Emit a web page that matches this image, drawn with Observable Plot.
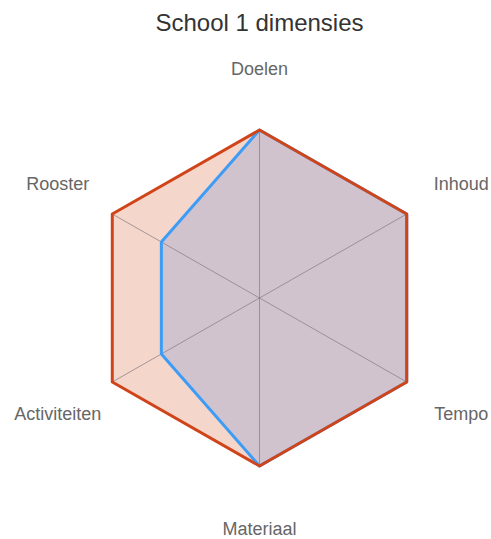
<!DOCTYPE html>
<html>
<head>
<meta charset="utf-8">
<script src="https://cdn.jsdelivr.net/npm/d3@7"></script>
<script src="https://cdn.jsdelivr.net/npm/@observablehq/plot@0.6"></script>
<style>
  html, body { margin: 0; padding: 0; background: #fff; }
  #chart svg { display: block; }
</style>
</head>
<body>
<div id="chart"></div>
<script>
const title = "School 1 dimensies";
const dimensions = ["Doelen", "Inhoud", "Tempo", "Materiaal", "Activiteiten", "Rooster"];
const seriesNames = ["Reeks 1", "Reeks 2"];
const seriesOrange = [3, 3, 3, 3, 3, 3];
const seriesBlue = [3, 3, 3, 3, 2, 2];
const maxValue = 3;

const W = 491, H = 539;
const cx = 259, cy = 297.5, Rx = 170, Ry = 168;

const ang = i => (i * 2 * Math.PI) / dimensions.length;
const px = (v, i) => (v / maxValue) * Math.sin(ang(i));
const py = (v, i) => (v / maxValue) * Math.cos(ang(i));

const rows = (name, vals) => vals.map((v, i) => ({series: name, dim: dimensions[i], x: px(v, i), y: py(v, i)}));
const orangeRows = rows(seriesNames[0], seriesOrange);
const blueRows = rows(seriesNames[1], seriesBlue);

const spokes = dimensions.flatMap((d, i) => [
  {dim: d, x: 0, y: 0},
  {dim: d, x: px(maxValue, i), y: py(maxValue, i)}
]);
const labelR = 1.37;
const labels = dimensions.map((d, i) => ({dim: d, x: labelR * Math.sin(ang(i)), y: labelR * Math.cos(ang(i))}));

const font = "'Liberation Sans', Arial, Helvetica, sans-serif";

const chart = Plot.plot({
  width: W,
  height: H,
  margin: 0,
  style: {fontFamily: font, background: "#fff"},
  x: {type: "linear", domain: [-cx / Rx, (W - cx) / Rx], range: [0, W], axis: null},
  y: {type: "linear", domain: [cy / Ry, -(H - cy) / Ry], range: [0, H], axis: null},
  marks: [
    Plot.line(orangeRows, {x: "x", y: "y", curve: "linear-closed", fill: "rgb(215,91,47)", fillOpacity: 0.25, stroke: "none"}),
    Plot.line(blueRows, {x: "x", y: "y", curve: "linear-closed", fill: "rgb(95,135,215)", fillOpacity: 0.24, stroke: "none"}),
    Plot.line(spokes, {x: "x", y: "y", z: "dim", stroke: "#8a7f86", strokeWidth: 1, strokeOpacity: 0.75}),
    Plot.line(blueRows, {x: "x", y: "y", curve: "linear-closed", stroke: "#3d9cf5", strokeWidth: 3, strokeLinejoin: "round"}),
    Plot.line(orangeRows, {x: "x", y: "y", curve: "linear-closed", stroke: "#d0441a", strokeWidth: 3, strokeLinejoin: "round"}),
    Plot.text(labels, {x: "x", y: "y", dy: 1, text: "dim", fill: "#666", fontSize: 18, textAnchor: "middle"}),
    Plot.text([title], {x: () => 0, frameAnchor: "top", dy: 13, text: d => d, fill: "#333", fontSize: 24})
  ]
});
document.getElementById("chart").appendChild(chart);
</script>
</body>
</html>
